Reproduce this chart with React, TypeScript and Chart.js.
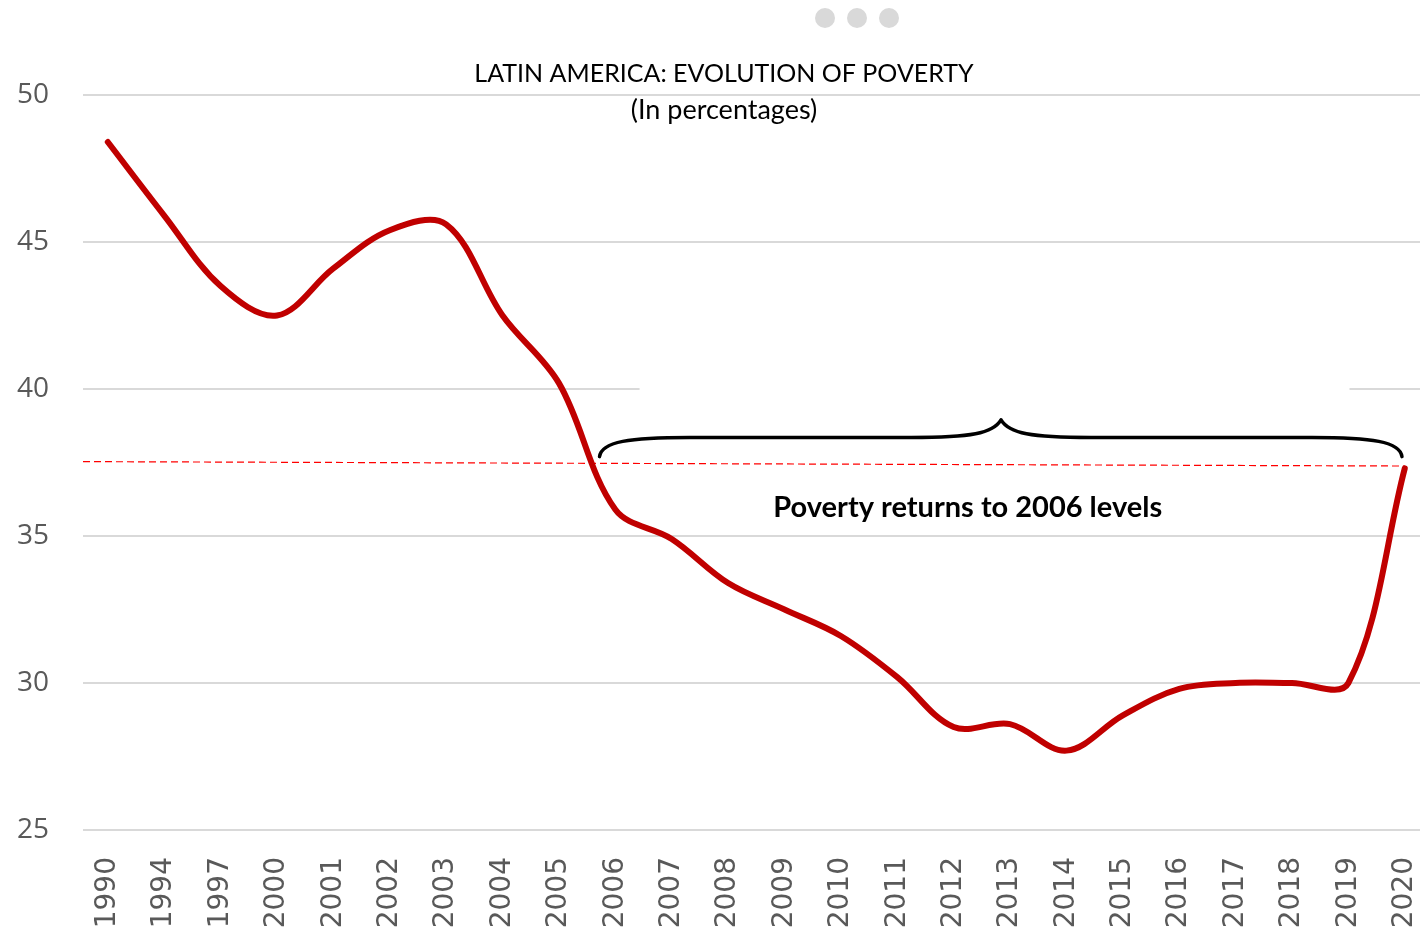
import React, { useEffect, useRef } from "react";
import { Chart, registerables } from "chart.js";

Chart.register(...registerables);

// ---- Data ----
const years: string[] = [
  "1990", "1994", "1997", "2000", "2001", "2002", "2003", "2004", "2005", "2006",
  "2007", "2008", "2009", "2010", "2011", "2012", "2013", "2014", "2015", "2016",
  "2017", "2018", "2019", "2020",
];
const poverty: number[] = [
  48.4, 45.9, 43.5, 42.5, 44.1, 45.4, 45.6, 42.5, 40.2, 35.9,
  34.9, 33.4, 32.5, 31.6, 30.2, 28.5, 28.6, 27.7, 28.9, 29.8,
  30.0, 30.0, 30.0, 37.3,
];
// reference dashed line (2006 level), x in category index units
const refLineX: number[] = [-0.44, 23];
const refLineY: number[] = [37.53, 37.38];
// brace annotation (index units / percent units)
const braceX: number[] = [8.72, 15.84, 22.95]; // start, tip, end
const braceY: number[] = [37.7, 38.35, 38.95]; // ends, level, tip
const yTicks: number[] = [25, 30, 35, 40, 45, 50];

const titleLines: string[] = ["LATIN AMERICA: EVOLUTION OF POVERTY", "(In percentages)"];
const annotationText = "Poverty returns to 2006 levels";

const decorPlugin = {
  id: "decor",
  beforeDatasetsDraw(chart: any) {
    const { ctx, scales } = chart;
    const x = scales.x, y = scales.y;
    // gap in the 40 gridline behind the brace
    ctx.save();
    ctx.fillStyle = "#ffffff";
    const gx0 = x.getPixelForValue(9.43);
    const gx1 = x.getPixelForValue(22.02);
    const gy = y.getPixelForValue(40);
    ctx.fillRect(gx0, gy - 3, gx1 - gx0, 6);
    ctx.restore();
  },
  afterDraw(chart: any) {
    const { ctx, scales } = chart;
    const x = scales.x, y = scales.y;
    ctx.save();
    // carousel dots
    ctx.fillStyle = "#d9d9d9";
    [825, 857, 889].forEach((cx) => {
      ctx.beginPath();
      ctx.arc(cx, 18, 10, 0, Math.PI * 2);
      ctx.fill();
    });
    // title
    ctx.fillStyle = "#000000";
    ctx.textAlign = "center";
    ctx.textBaseline = "middle";
    ctx.font = "25px Lato";
    ctx.fillText(titleLines[0], 724, 74);
    ctx.font = "27px Lato";
    ctx.fillText(titleLines[1], 724, 110);

    // brace
    const xs = x.getPixelForValue(braceX[0]);
    const xm = x.getPixelForValue(braceX[1]);
    const xe = x.getPixelForValue(braceX[2]);
    const yEnd = y.getPixelForValue(braceY[0]);
    const yLev = y.getPixelForValue(braceY[1]);
    const yTip = y.getPixelForValue(braceY[2]);
    ctx.strokeStyle = "#000000";
    ctx.lineWidth = 3.5;
    ctx.lineCap = "round";
    ctx.lineJoin = "round";
    ctx.beginPath();
    ctx.moveTo(xs, yEnd);
    ctx.bezierCurveTo(xs + 2, yLev + 4, xs + 30, yLev, xs + 90, yLev);
    ctx.lineTo(xm - 90, yLev);
    ctx.bezierCurveTo(xm - 30, yLev, xm - 8, yLev - 4, xm, yTip);
    ctx.bezierCurveTo(xm + 8, yLev - 4, xm + 30, yLev, xm + 90, yLev);
    ctx.lineTo(xe - 90, yLev);
    ctx.bezierCurveTo(xe - 30, yLev, xe - 2, yLev + 4, xe, yEnd);
    ctx.stroke();

    // annotation text
    ctx.font = "bold 29px Lato";
    ctx.fillStyle = "#000000";
    ctx.fillText(annotationText, x.getPixelForValue(15.25), y.getPixelForValue(35.95));
    ctx.restore();
  },
};

export default function App() {
  const ref = useRef<HTMLCanvasElement | null>(null);
  useEffect(() => {
    document.body.style.margin = "0";
    if (!ref.current) return;
    const chart = new Chart(ref.current, {
      type: "line",
      data: {
        datasets: [
          {
            label: "Poverty",
            data: poverty.map((v, i) => ({ x: i, y: v })),
            borderColor: "#c00000",
            borderWidth: 6,
            pointRadius: 0,
            tension: 0.35,
            borderCapStyle: "round",
            fill: false,
          },
          {
            label: "2006 level",
            data: refLineX.map((v, i) => ({ x: v, y: refLineY[i] })),
            borderColor: "#ff0000",
            borderWidth: 1.2,
            borderDash: [7, 4],
            pointRadius: 0,
            tension: 0,
            fill: false,
          },
        ],
      },
      options: {
        responsive: false,
        animation: false,
        layout: { padding: { top: 95, right: 0, bottom: 0, left: 0 } },
        plugins: {
          legend: { display: false },
          title: { display: false },
          tooltip: { enabled: false },
        },
        scales: {
          x: {
            type: "linear",
            min: -0.44,
            max: 23.27,
            grid: { display: false, drawTicks: false },
            border: { display: false },
            afterBuildTicks: (scale: any) => {
              scale.ticks = years.map((_, i) => ({ value: i }));
            },
            afterFit: (scale: any) => {
              scale.height = 103;
              scale.paddingLeft = 0;
              scale.paddingRight = 0;
            },
            ticks: {
              autoSkip: false,
              maxRotation: 90,
              minRotation: 90,
              padding: 27,
              color: "#595959",
              font: { family: "DejaVu Sans", size: 28 },
              callback: (v: any) => years[v] ?? "",
            },
          },
          y: {
            type: "linear",
            min: 25,
            max: 50,
            afterBuildTicks: (scale: any) => {
              scale.ticks = yTicks.map((v) => ({ value: v }));
            },
            afterFit: (scale: any) => {
              scale.width = 83;
            },
            grid: { color: "#d9d9d9", lineWidth: 2, drawTicks: false },
            border: { display: false },
            ticks: {
              padding: 34,
              color: "#595959",
              font: { family: "Open Sans", size: 28 },
            },
          },
        },
      },
      plugins: [decorPlugin],
    } as any);
    return () => chart.destroy();
  }, []);
  return (
    <div style={{ width: 1420, height: 933 }}>
      <canvas ref={ref} width={1420} height={933} style={{ display: "block" }} />
    </div>
  );
}
